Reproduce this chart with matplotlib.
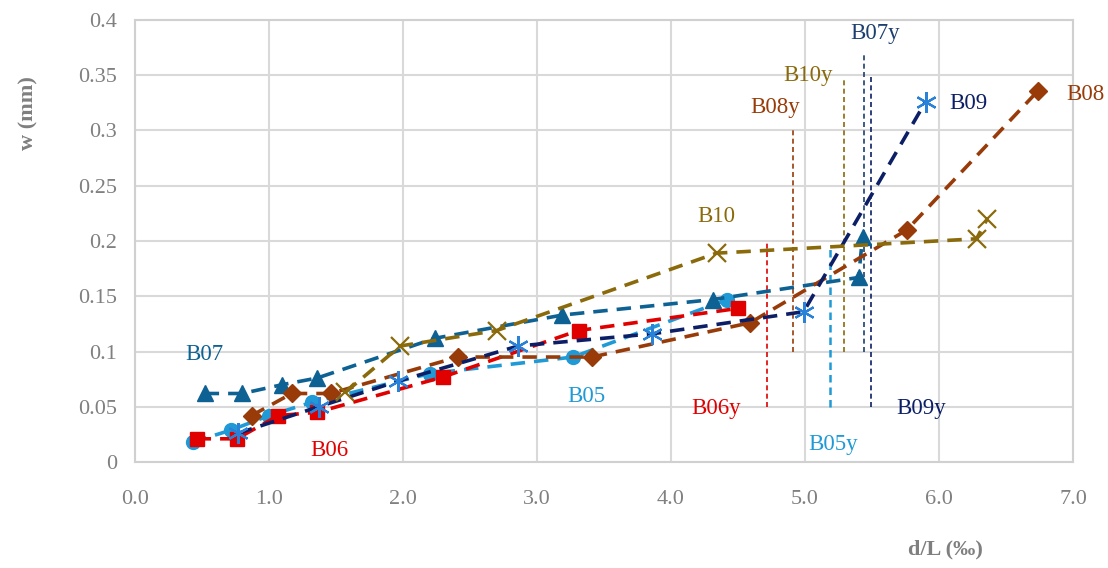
import matplotlib.pyplot as plt
from matplotlib.ticker import FuncFormatter, MultipleLocator

plt.rcParams['font.family'] = ['Liberation Serif', 'DejaVu Serif']

# crack width w (mm) against drift d/L (permille)
b05_x = [0.43, 0.72, 1.00, 1.32, 2.20, 3.27, 4.42]
b05_w = [0.018, 0.029, 0.042, 0.054, 0.080, 0.095, 0.147]
b06_x = [0.46, 0.76, 1.07, 1.36, 2.30, 3.31, 4.50]
b06_w = [0.021, 0.021, 0.042, 0.045, 0.077, 0.119, 0.139]
b07_x = [0.52, 0.80, 1.10, 1.36, 2.24, 3.19, 4.31, 5.40, 5.43]
b07_w = [0.062, 0.062, 0.070, 0.076, 0.112, 0.133, 0.147, 0.167, 0.204]
b08_x = [0.87, 1.17, 1.46, 2.41, 3.41, 4.59, 5.76, 6.74]
b08_w = [0.042, 0.062, 0.062, 0.095, 0.095, 0.126, 0.210, 0.336]
b09_x = [0.77, 1.37, 1.96, 2.86, 3.86, 4.99, 5.90]
b09_w = [0.026, 0.050, 0.073, 0.105, 0.116, 0.136, 0.326]
b10_x = [1.57, 1.98, 2.70, 4.34, 6.28, 6.36]
b10_w = [0.063, 0.105, 0.119, 0.189, 0.202, 0.220]

# yield drift markers: name, x, w from, w to
yld_names = ['B06y', 'B08y', 'B05y', 'B10y', 'B07y', 'B09y']
yld_x = [4.72, 4.91, 5.19, 5.29, 5.44, 5.49]
yld_lo = [0.05, 0.10, 0.05, 0.10, 0.10, 0.05]
yld_hi = [0.20, 0.30, 0.195, 0.348, 0.368, 0.348]

c05 = '#1f9ad6'
c06 = '#e00000'
c07 = '#0e6193'
c08 = '#983b08'
c09 = '#0c1f66'
c09m = '#2a82d8'
c10 = '#8a6a0a'
c07y = '#1d3f70'

fig = plt.figure(figsize=(11.08, 5.68), dpi=100)
ax = fig.add_axes([0.1218, 0.1866, 0.8466, 0.7782])

ycol = [c06, c08, c05, c10, c07y, c09]
ylw = [1.2, 1.2, 1.8, 1.2, 1.2, 1.2]
for xv, lo, hi, col, lw in zip(yld_x, yld_lo, yld_hi, ycol, ylw):
    ax.plot([xv, xv], [lo, hi], color=col, lw=lw, ls=(0, (3, 2)), zorder=2)

dash = (0, (4, 2.5))
ax.plot(b05_x, b05_w, color=c05, ls=dash, lw=2.6, marker='o', ms=10, zorder=3)
ax.plot(b06_x, b06_w, color=c06, ls=dash, lw=2.6, marker='s', ms=10, zorder=3)
ax.plot(b07_x, b07_w, color=c07, ls=dash, lw=2.6, marker='^', ms=12, zorder=3)
ax.plot(b08_x, b08_w, color=c08, ls=dash, lw=2.6, marker='D', ms=9, zorder=3)
ax.plot(b09_x, b09_w, color=c09, ls=dash, lw=2.6, zorder=3)
ax.plot(b09_x, b09_w, ls='none', marker=(6, 2, 0), ms=15, mew=1.6,
        color=c09m, zorder=4)
ax.plot(b10_x, b10_w, color=c10, ls=dash, lw=2.6, marker='x', ms=13,
        mew=1.6, zorder=3)

# series and yield labels
lab_txt = ['B07', 'B05', 'B06', 'B10', 'B09', 'B08',
           'B06y', 'B05y', 'B09y', 'B08y', 'B10y', 'B07y']
lab_x = [0.52, 3.37, 1.45, 4.34, 6.22, 7.09,
         4.34, 5.21, 5.87, 4.78, 5.02, 5.52]
lab_y = [0.097, 0.059, 0.010, 0.222, 0.324, 0.333,
         0.048, 0.016, 0.048, 0.321, 0.350, 0.388]
lab_c = [c07, c05, c06, c10, c09, c08,
         c06, c05, c09, c08, c10, c07y]
for t, xv, yv, col in zip(lab_txt, lab_x, lab_y, lab_c):
    ax.text(xv, yv, t, color=col, fontsize=16.5, ha='center', va='center',
            clip_on=False)

ax.set_xlim(0, 7)
ax.set_ylim(0, 0.4)
ax.xaxis.set_major_locator(MultipleLocator(1))
ax.yaxis.set_major_locator(MultipleLocator(0.05))
ax.xaxis.set_major_formatter(FuncFormatter(lambda v, p: f'{v:.1f}'))
ax.yaxis.set_major_formatter(FuncFormatter(lambda v, p: f'{round(v, 2):g}'))
ax.grid(True, color='#d9d9d9', lw=1.5, zorder=0)
ax.set_axisbelow(True)
for s in ax.spines.values():
    s.set_color('#d0d0d0')
    s.set_linewidth(1.5)
ax.tick_params(length=0, labelsize=16, colors='#808080')
ax.tick_params(axis='x', pad=20)
ax.tick_params(axis='y', pad=13)

ax.set_xlabel('d/L (‰)', fontsize=16, fontweight='bold', color='#7f7f7f')
ax.xaxis.set_label_coords(0.864, -0.175)
ax.set_ylabel('w (mm)', fontsize=16, fontweight='bold', color='#7f7f7f')
ax.yaxis.set_label_coords(-0.103, 0.79)

plt.savefig('out.png')
plt.close()
